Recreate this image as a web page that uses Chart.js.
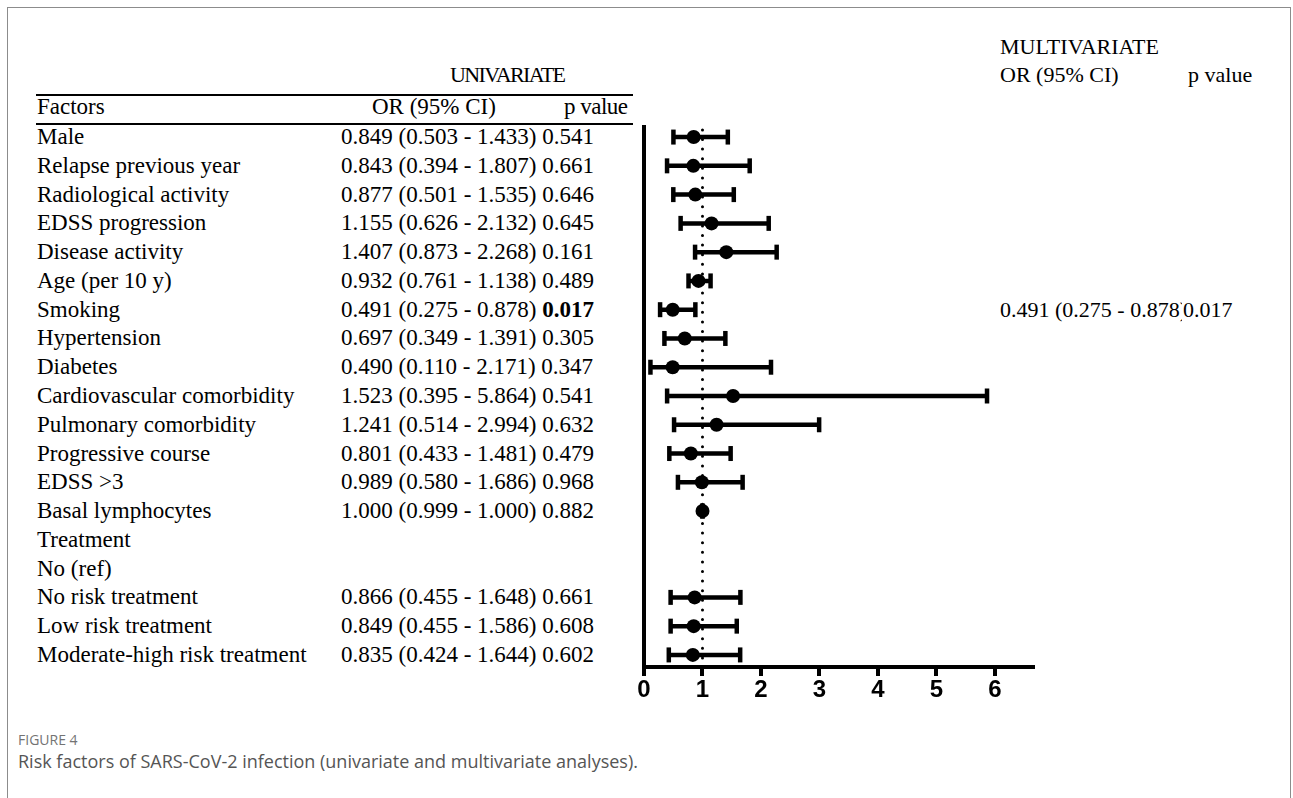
<!DOCTYPE html>
<html lang="en">
<head>
<meta charset="UTF-8">
<title>Figure 4 - Risk factors of SARS-CoV-2 infection</title>
<style>
  body {
    margin: 0;
    background: #fff;
    width: 1293px;
    height: 798px;
    overflow: hidden;
    position: relative;
  }
  .frame {
    position: absolute;
    left: 7px; top: 7px;
    width: 1282px; height: 820px;
    border: 1px solid #8c8c8c;
  }
  .t {
    position: absolute;
    font-family: "Liberation Serif", "Times New Roman", serif;
    font-size: 23px;
    color: #000;
    white-space: nowrap;
    height: 30px;
    line-height: 30px;
  }
  .t.r { font-size: 22px; }
  .rule {
    position: absolute;
    left: 36px;
    width: 597px;
    height: 2px;
    background: #000;
  }
  #chartBox {
    position: absolute;
    left: 600px; top: 60px;
    width: 460px; height: 680px;
  }
  .fig {
    position: absolute;
    left: 18px;
    font-family: "Open Sans", "Noto Sans", sans-serif;
    white-space: nowrap;
  }
</style>
</head>
<body>
<div class="frame"></div>

<div id="table"></div>

<div id="chartBox"><canvas id="forest"></canvas></div>

<div class="fig" style="top:730px;font-size:14px;color:#737373;">FIGURE 4</div>
<div class="fig" style="top:749px;font-size:18px;color:#555;">Risk factors of SARS-CoV-2 infection (univariate and multivariate analyses).</div>

<script src="https://cdn.jsdelivr.net/npm/chart.js"></script>
<script>
  // univariate results, one entry per row (null = no estimate)
  var factors = ["Male", "Relapse previous year", "Radiological activity", "EDSS progression",
    "Disease activity", "Age (per 10 y)", "Smoking", "Hypertension", "Diabetes",
    "Cardiovascular comorbidity", "Pulmonary comorbidity", "Progressive course", "EDSS >3",
    "Basal lymphocytes", "Treatment", "No (ref)", "No risk treatment", "Low risk treatment",
    "Moderate-high risk treatment"];
  var oddsRatio = [0.849, 0.843, 0.877, 1.155, 1.407, 0.932, 0.491, 0.697, 0.490, 1.523,
    1.241, 0.801, 0.989, 1.000, null, null, 0.866, 0.849, 0.835];
  var ciLow = [0.503, 0.394, 0.501, 0.626, 0.873, 0.761, 0.275, 0.349, 0.110, 0.395,
    0.514, 0.433, 0.580, 0.999, null, null, 0.455, 0.455, 0.424];
  var ciHigh = [1.433, 1.807, 1.535, 2.132, 2.268, 1.138, 0.878, 1.391, 2.171, 5.864,
    2.994, 1.481, 1.686, 1.000, null, null, 1.648, 1.586, 1.644];
  var pValues = ["0.541", "0.661", "0.646", "0.645", "0.161", "0.489", "0.017", "0.305", "0.347",
    "0.541", "0.632", "0.479", "0.968", "0.882", "", "", "0.661", "0.608", "0.602"];
  var significant = [6];

  // multivariate (only smoking kept in the model)
  var multiRow = 6;
  var multiText = "0.491 (0.275 - 0.878)";
  var multiP = "0.017";

  var xTicks = [0, 1, 2, 3, 4, 5, 6];

  // row geometry of the page
  var rowTop = 137, rowStep = 28.78;

  function addText(txt, x, y, cls, extra) {
    var d = document.createElement('div');
    d.className = 't' + (cls ? ' ' + cls : '');
    d.style.left = x + 'px';
    d.style.top = (y - 15) + 'px';
    if (extra) d.style.cssText += extra;
    d.innerHTML = txt;
    document.getElementById('table').appendChild(d);
    return d;
  }

  // headers
  addText("UNIVARIATE", 450, 75, '', 'font-size:22px;letter-spacing:-1.6px;');
  addText("MULTIVARIATE", 1000, 47, 'r');
  addText("Factors", 37, 107);
  addText("OR (95% CI)", 372, 107);
  addText("p value", 564, 107, '', 'letter-spacing:-0.5px;');
  addText("OR (95% CI)", 1000, 75, 'r');
  addText("p value", 1188, 75, 'r');
  var r1 = document.createElement('div'); r1.className = 'rule'; r1.style.top = '94px';
  var r2 = document.createElement('div'); r2.className = 'rule'; r2.style.top = '123px';
  document.getElementById('table').appendChild(r1);
  document.getElementById('table').appendChild(r2);

  // rows
  factors.forEach(function (f, i) {
    var y = rowTop + i * rowStep;
    addText(f, 37, y);
    if (oddsRatio[i] !== null) {
      var p = pValues[i];
      var pHtml = significant.indexOf(i) >= 0 ? '<b>' + p + '</b>' : p;
      addText(oddsRatio[i].toFixed(3) + ' (' + ciLow[i].toFixed(3) + ' - ' + ciHigh[i].toFixed(3) + ') ' + pHtml, 341, y);
    }
  });
  addText(multiText, 1000, rowTop + multiRow * rowStep, 'r');
  addText(multiP, 1182, rowTop + multiRow * rowStep, 'r', 'background:#fff;padding-left:1px;');

  // chart data built from the arrays
  var dots = [], caps = [], bars = [];
  oddsRatio.forEach(function (v, i) {
    if (v === null) return;
    dots.push({ x: v, y: i });
    caps.push({ x: ciLow[i], y: i });
    caps.push({ x: ciHigh[i], y: i });
    bars.push({ x: ciLow[i], y: i });
    bars.push({ x: ciHigh[i], y: i });
    bars.push({ x: null, y: null });
  });
  var yMin = -0.35, yMax = 18.42;

  new Chart(document.getElementById('forest'), {
    type: 'scatter',
    data: {
      datasets: [{
        data: dots,
        pointStyle: 'circle',
        pointRadius: 7,
        backgroundColor: '#000',
        borderColor: '#000',
        borderWidth: 0
      }, {
        data: caps,
        pointStyle: 'line',
        rotation: 90,
        pointRadius: 7.5,
        borderColor: '#000',
        borderWidth: 4.5
      }, {
        type: 'line',
        data: bars,
        borderColor: '#000',
        borderWidth: 4.5,
        pointRadius: 0,
        spanGaps: false
      }, {
        type: 'line',
        data: [{ x: 1, y: yMin + 0.1 }, { x: 1, y: yMax }],
        borderColor: '#000',
        borderWidth: 3,
        borderDash: [0, 9.6],
        borderCapStyle: 'round',
        pointRadius: 0
      }]
    },
    options: {
      responsive: true,
      maintainAspectRatio: false,
      animation: false,
      clip: false,
      layout: { padding: { left: 44, top: 67, right: 27, bottom: 23 } },
      plugins: { legend: { display: false }, tooltip: { enabled: false } },
      scales: {
        x: {
          type: 'linear',
          min: 0,
          max: 6.65,
          afterFit: function (s) { s.height = 50; },
          afterBuildTicks: function (s) { s.ticks = xTicks.map(function (v) { return { value: v }; }); },
          ticks: {
            color: '#000',
            padding: 0,
            font: { family: '"Liberation Sans Narrow", "Liberation Sans", Arial, sans-serif', size: 24, weight: 'bold' }
          },
          grid: {
            display: true,
            drawOnChartArea: false,
            drawTicks: true,
            tickLength: 9,
            tickWidth: 4,
            tickColor: '#000',
            lineWidth: 4,
            color: '#000'
          },
          border: { display: true, width: 4, color: '#000' }
        },
        y: {
          type: 'linear',
          reverse: true,
          min: yMin,
          max: yMax,
          afterFit: function (s) { s.width = 0; },
          ticks: { display: false },
          grid: { display: false },
          border: { display: true, width: 4, color: '#000' }
        }
      }
    }
  });
</script>
</body>
</html>
